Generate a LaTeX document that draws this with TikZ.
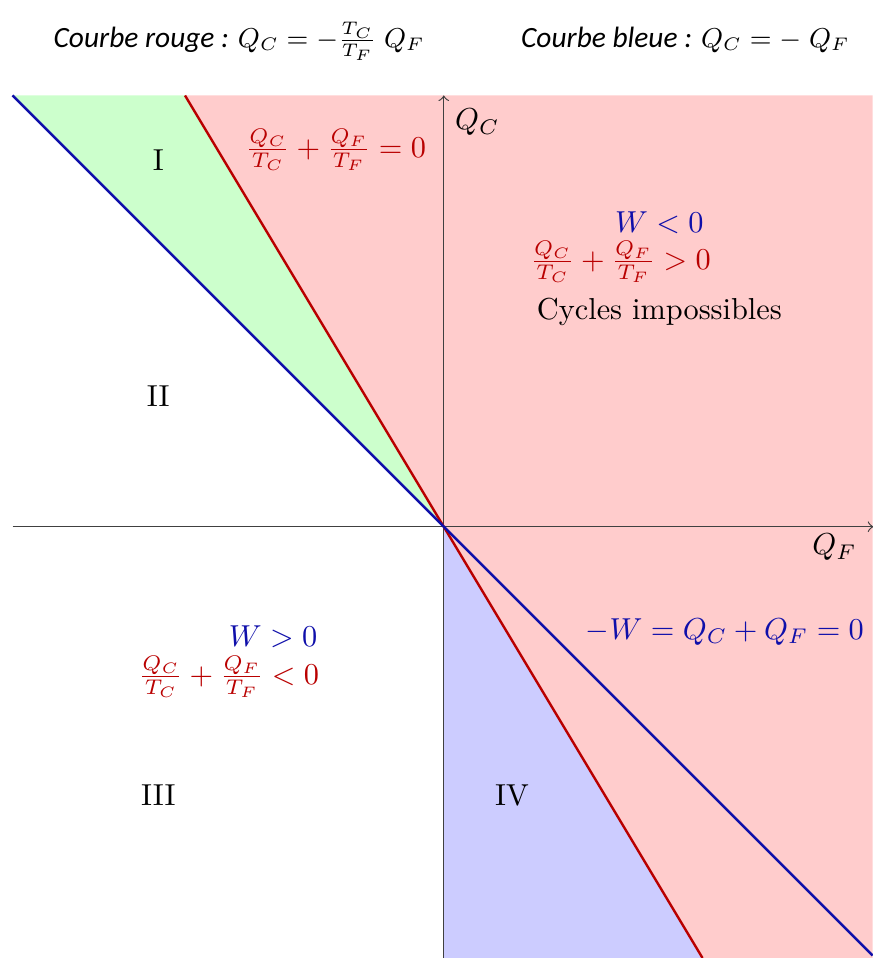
\documentclass[tikz,border=0pt]{standalone}
\usepackage{amsmath,amssymb}
\usepackage{fontspec}
\newfontfamily\headfont{Carlito}
\usetikzlibrary{arrows}
\definecolor{rouge}{RGB}{185,0,0}
\definecolor{bleu}{RGB}{15,15,170}
\definecolor{fondrouge}{RGB}{255,204,204}
\definecolor{fondvert}{RGB}{204,255,204}
\definecolor{fondbleu}{RGB}{204,204,255}
\newcommand{\hmath}[1]{{\fontsize{8.8}{10}\selectfont $#1$}}

\begin{document}
\begin{tikzpicture}[
    axe/.style={draw=black!75, ->},
    courbe/.style={thick},
    titre/.style={anchor=base west, inner sep=0pt, font=\headfont\itshape\fontsize{9.7}{12}\selectfont},
    zone/.style={inner sep=1pt}
]
\useasboundingbox (-5.145,-5) rectangle (4.971,6.107);
\coordinate (O) at (0,0);
\coordinate (R1) at (-3,5); \coordinate (R2) at (3,-5);
\coordinate (B1) at (-5,5); \coordinate (B2) at (4.971,-4.971);
% zones
\fill[fondrouge] (R1) -- (4.971,5) -- (4.971,-5) -- (R2) -- cycle;
\fill[fondvert] (B1) -- (R1) -- (O) -- cycle;
\fill[fondbleu] (O) -- (R2) -- (0,-5) -- cycle;
% axes
\draw (-5,0) coordinate (xa) (4.98,0) coordinate (xb);
\draw (0,-5) coordinate (ya) (0,5) coordinate (yb);
\draw [axe] (xa)--(xb);
\draw [axe] (ya)--(yb);
% courbes
\draw [courbe, rouge] (R1)--(R2);
\draw [courbe, bleu] (B1)--(B2);
% titres
\draw (-4.53,5.56) node[titre] (tr) {Courbe rouge : \hmath{Q_C = -\frac{T_C}{T_F}\;Q_F}};
\draw (0.89,5.56) node[titre] (tb) {Courbe bleue : \hmath{Q_C = -\;Q_F}};
% etiquettes
\draw (0.39,4.69) node (qc) {$Q_C$};
\draw (4.53,-0.24) node (qf) {$Q_F$};
\draw (-3.31,4.25) node[zone] (z1) {I};
\draw (-3.31,1.51) node[zone] (z2) {II};
\draw (-3.31,-3.11) node[zone] (z3) {III};
\draw (0.79,-3.11) node[zone] (z4) {IV};
\draw (-1.25,4.37) node[rouge] (eqr) {$\frac{Q_C}{T_C}+\frac{Q_F}{T_F}=0$};
\draw (2.50,3.53) node[bleu] (wn) {$W<0$};
\draw (2.05,3.07) node[rouge] (sp) {$\frac{Q_C}{T_C}+\frac{Q_F}{T_F}>0$};
\draw (2.50,2.49) node (ci) {Cycles impossibles};
\draw (-1.98,-1.27) node[bleu] (wp) {$W>0$};
\draw (-2.49,-1.74) node[rouge] (sn) {$\frac{Q_C}{T_C}+\frac{Q_F}{T_F}<0$};
\draw (3.26,-1.22) node[bleu] (eqb) {$-W=Q_C+Q_F=0$};
\end{tikzpicture}
\end{document}
